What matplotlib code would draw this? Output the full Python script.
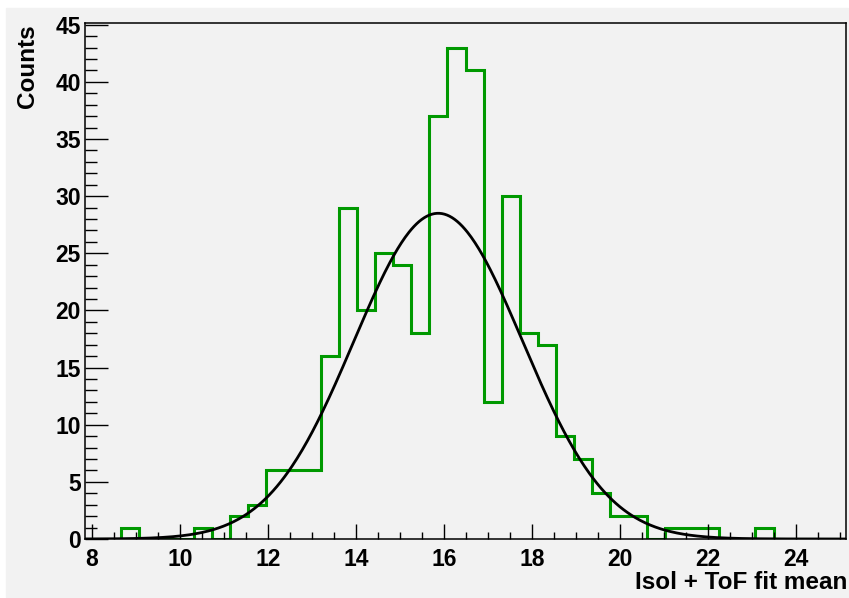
import numpy as np
import matplotlib
matplotlib.use("Agg")
import matplotlib.pyplot as plt
from matplotlib.patches import Rectangle
from matplotlib.ticker import MultipleLocator

# histogram: 42 bins between the data range
x_min = 7.84
x_max = 25.14
n_bins = 42
counts = [0, 0, 1, 0, 0, 0, 1, 0, 2, 3, 6, 6, 6, 16, 29, 20, 25, 24, 18, 37, 43,
          41, 12, 30, 18, 17, 9, 7, 4, 2, 2, 0, 1, 1, 1, 0, 0, 1, 0, 0, 0, 0]

# gaussian fit parameters
fit_const = 28.5
fit_mean = 15.87
fit_sigma = 1.92

x_ticks = [8, 10, 12, 14, 16, 18, 20, 22, 24]
y_ticks = [0, 5, 10, 15, 20, 25, 30, 35, 40, 45]

bg = "#f2f2f2"
font = ["Liberation Sans", "DejaVu Sans"]


def main():
    edges = np.linspace(x_min, x_max, n_bins + 1)

    fig = plt.figure(figsize=(8.49, 5.98), dpi=100, facecolor="white")
    fig.add_artist(Rectangle((6 / 849, 1 / 598), 842 / 849, 589 / 598,
                             transform=fig.transFigure, color=bg, zorder=-10))
    ax = fig.add_axes([85 / 849, 59 / 598, 761 / 849, 516 / 598])
    ax.set_facecolor(bg)

    ax.stairs(counts, edges, color="#009900", linewidth=2.2, baseline=0)

    xs = np.linspace(x_min, x_max, 600)
    ys = fit_const * np.exp(-0.5 * ((xs - fit_mean) / fit_sigma) ** 2)
    ax.plot(xs, ys, color="black", linewidth=2.0)

    ax.set_xlim(x_min, x_max)
    ax.set_ylim(0, 1.05 * max(counts))

    ax.set_xticks(x_ticks)
    ax.set_yticks(y_ticks)
    ax.xaxis.set_minor_locator(MultipleLocator(0.5))
    ax.yaxis.set_minor_locator(MultipleLocator(1))
    ax.tick_params(axis="x", which="major", direction="in", length=10.5, width=1.0, pad=6.5)
    ax.tick_params(axis="x", which="minor", direction="in", length=5, width=1.0)
    ax.tick_params(axis="y", which="major", direction="in", length=16.5, width=1.0, pad=3)
    ax.tick_params(axis="y", which="minor", direction="in", length=8.5, width=1.0)
    for lab in ax.get_xticklabels() + ax.get_yticklabels():
        lab.set_family(font)
        lab.set_fontweight("bold")
        lab.set_fontsize(16.5)

    for sp in ax.spines.values():
        sp.set_linewidth(1.1)

    ax.set_xlabel("Isol + ToF fit mean", family=font, fontweight="bold", fontsize=17.5)
    ax.xaxis.set_label_coords(1.002, -0.062)
    ax.xaxis.label.set_horizontalalignment("right")
    ax.set_ylabel("Counts", family=font, fontweight="bold", fontsize=17.5)
    ax.yaxis.set_label_coords(-0.06, 0.998)
    ax.yaxis.label.set_horizontalalignment("right")

    fig.savefig("out.png", dpi=100, facecolor="white")
    plt.close()


if __name__ == "__main__":
    main()
